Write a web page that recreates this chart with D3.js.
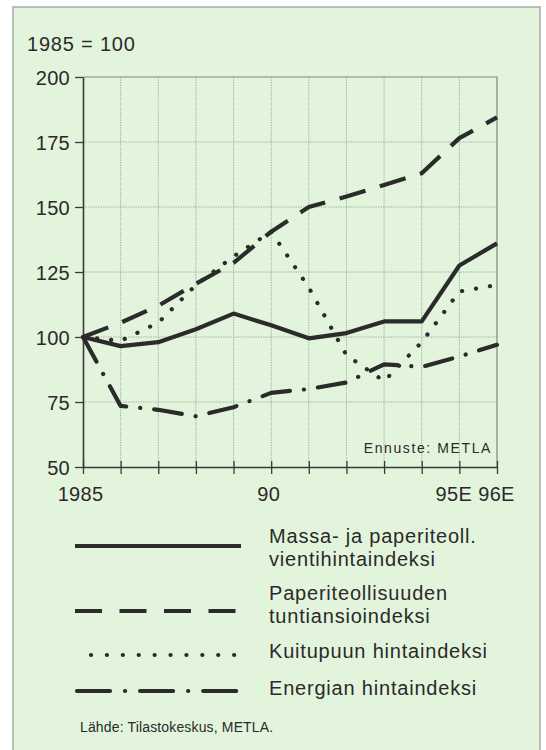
<html>
<head>
  <style>
  body { margin: 0; background: #fff; }
  #chart text {
    font-family: "Liberation Sans", Arial, sans-serif;
    fill: #2a2a2a;
  }
  .big { font-size: 20px; letter-spacing: 0.8px; }
  .grid line { stroke: #93a393; stroke-width: 0.8; stroke-dasharray: 1.5,1; }
  .series { fill: none; stroke: #2b2b2b; stroke-width: 4.2; stroke-linejoin: round; }
  </style>
  <script src="https://d3js.org/d3.v7.min.js"></script>
</head>
<body>
  <svg id="chart"></svg>
</body>
  <script>

  var years = [1985, 1986, 1987, 1988, 1989, 1990, 1991, 1992, 1993, 1994, 1995, 1996];
  var yearLabels = ["1985", "", "", "", "", "90", "", "", "", "", "95E", "96E"];
  var yTicks = [50, 75, 100, 125, 150, 175, 200];

  // indeksit, 1985 = 100
  var vienti = [100, 96.5, 98, 103, 109, 104.5, 99.5, 101.5, 106, 106, 127.5, 136];
  var tuntiansio = [100, 105.5, 112, 120.5, 128.5, 140.5, 150, 154, 158.5, 163, 176.5, 184.5];
  var kuitupuu = [100, 98.5, 105.5, 120, 131, 140.5, 119, 93, 83, 98, 117.5, 120];
  var energia = [100, 73.5, 72, 69.5, 73, 78.5, 80, 82.5, 89.5, 88.5, 92.5, 97];

  var seriesNames = [
    ["Massa- ja paperiteoll.", "vientihintaindeksi"],
    ["Paperiteollisuuden", "tuntiansioindeksi"],
    ["Kuitupuun hintaindeksi"],
    ["Energian hintaindeksi"]
  ];

  var width = 546,
      height = 750;

  var x = d3.scaleLinear()
      .domain([1985, 1996])
      .range([83, 497]);

  var y = d3.scaleLinear()
      .domain([50, 200])
      .range([467, 77]);

  var chart = d3.select("#chart")
      .attr("width", width)
      .attr("height", height);

  // tausta
  chart.append("rect")
      .attr("x", 13)
      .attr("y", 7)
      .attr("width", 527)
      .attr("height", 750)
      .attr("fill", "#e3f4dd")
      .attr("stroke", "#a4aca4")
      .attr("stroke-width", 1.5);

  chart.append("text")
      .attr("class", "big")
      .attr("x", 27)
      .attr("y", 51)
      .text("1985 = 100");

  // ruudukko
  var grid = chart.append("g").attr("class", "grid");

  grid.selectAll(".v")
      .data(years.slice(1, -1))
    .enter().append("line")
      .attr("x1", function(d) { return x(d); })
      .attr("x2", function(d) { return x(d); })
      .attr("y1", y(200))
      .attr("y2", y(50));

  grid.selectAll(".h")
      .data(yTicks.slice(1, -1))
    .enter().append("line")
      .attr("x1", x(1985))
      .attr("x2", x(1996))
      .attr("y1", function(d) { return y(d); })
      .attr("y2", function(d) { return y(d); });

  // yläreuna ja oikea reuna
  chart.append("path")
      .attr("d", "M" + x(1985) + "," + y(200) + "H" + x(1996) + "V" + y(50))
      .attr("fill", "none")
      .attr("stroke", "#7f877f")
      .attr("stroke-width", 1.2);

  var yAxis = chart.append("g")
      .attr("transform", "translate(" + x(1985) + ",0)")
      .call(d3.axisLeft(y).tickValues(yTicks).tickSize(8).tickSizeOuter(0).tickPadding(5));

  var xAxis = chart.append("g")
      .attr("transform", "translate(0," + y(50) + ")")
      .call(d3.axisBottom(x).tickValues(years)
        .tickFormat(function(d, i) { return yearLabels[i]; })
        .tickSize(7).tickSizeOuter(0).tickPadding(0));

  [yAxis, xAxis].forEach(function(a) {
    a.select(".domain").attr("stroke", "#3a3a3a").attr("stroke-width", 1.6);
    a.selectAll(".tick line").attr("stroke", "#3a3a3a").attr("stroke-width", 1.3);
    a.selectAll("text")
        .attr("fill", "#2a2a2a")
        .attr("font-size", null)
        .attr("font-family", null)
        .style("font-size", "20px")
        .style("letter-spacing", "0.3px");
  });

  yAxis.selectAll("text").attr("dy", "0.36em");
  xAxis.selectAll(".tick line").attr("y1", -6);
  // 95E ja 96E erilleen, jotta merkinnät eivät osu yhteen
  xAxis.selectAll(".tick text")
      .attr("y", 34).attr("dy", 0)
      .attr("x", function(d) { return d === 1995 ? -6 : d === 1996 ? -1 : -3; });

  chart.append("text")
      .attr("x", 492)
      .attr("y", 453)
      .attr("text-anchor", "end")
      .style("font-size", "14px")
      .style("letter-spacing", "1.6px")
      .text("Ennuste: METLA");

  // käyrät
  var styles = [
    { dash: null, cap: "butt" },
    { dash: "27,15", cap: "butt" },
    { dash: "0.1,14", cap: "round" },
    { dash: "28,14,0.1,14", cap: "round" }
  ];

  var line = d3.line()
      .x(function(d, i) { return x(years[i]); })
      .y(function(d) { return y(d); });

  var allSeries = [vienti, tuntiansio, kuitupuu, energia];

  chart.selectAll(".series")
      .data(allSeries)
    .enter().append("path")
      .attr("class", "series")
      .attr("d", line)
      .attr("stroke-dasharray", function(d, i) { return styles[i].dash; })
      .attr("stroke-linecap", function(d, i) { return styles[i].cap; });

  // selite
  var legendY = [546, 611, 655, 691];
  var legendDash = [null, "27,17.5", "0.1,15.8", "33,15,0.1,15"];
  var legendX0 = [75, 75, 91, 77];
  var textY = [543, 600, 658, 695];

  var legend = chart.selectAll(".legend")
      .data(seriesNames)
    .enter().append("g")
      .attr("class", "legend");

  legend.append("line")
      .attr("x1", function(d, i) { return legendX0[i]; })
      .attr("x2", 241)
      .attr("y1", function(d, i) { return legendY[i]; })
      .attr("y2", function(d, i) { return legendY[i]; })
      .attr("stroke", "#2b2b2b")
      .attr("stroke-width", 4.2)
      .attr("stroke-dasharray", function(d, i) { return legendDash[i]; })
      .attr("stroke-linecap", function(d, i) { return i >= 2 ? "round" : "butt"; });

  legend.append("text")
      .attr("class", "big")
      .attr("y", function(d, i) { return textY[i]; })
    .selectAll("tspan")
      .data(function(d) { return d; })
    .enter().append("tspan")
      .attr("x", 269)
      .attr("dy", function(d, j) { return j ? 22.5 : 0; })
      .text(function(d) { return d; });

  chart.append("text")
      .attr("x", 80)
      .attr("y", 732)
      .style("font-size", "14px")
      .style("letter-spacing", "0.15px")
      .text("Lähde: Tilastokeskus, METLA.");

  </script>
</html>
